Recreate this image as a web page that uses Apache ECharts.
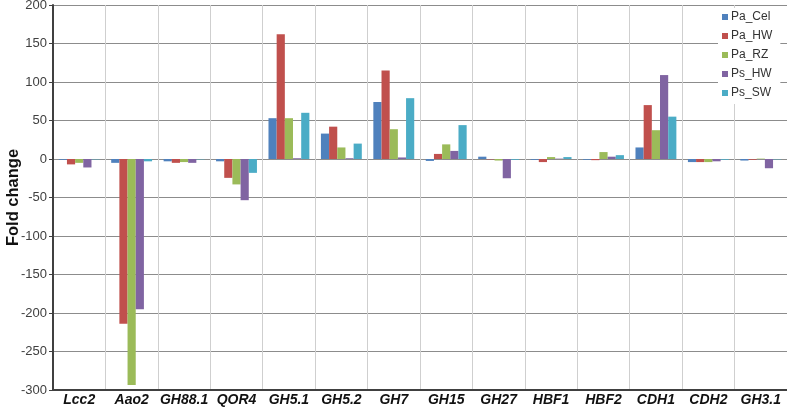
<!DOCTYPE html>
<html><head><meta charset="utf-8">
<script src="https://cdn.jsdelivr.net/npm/echarts@6/dist/echarts.min.js"></script>
<style>html,body{margin:0;padding:0;background:#fff}#c{width:787px;height:412px}</style>
</head><body><div id="c"></div>
<script>
const categories = ['Lcc2','Aao2','GH88.1','QOR4','GH5.1','GH5.2','GH7','GH15','GH27','HBF1','HBF2','CDH1','CDH2','GH3.1'];
const seriesNames = ['Pa_Cel','Pa_HW','Pa_RZ','Ps_HW','Ps_SW'];
const Pa_Cel = [-1, -5, -3, -3, 53, 33, 74, -2.5, 3, -1, -1, 15, -4, -2];
const Pa_HW  = [-7, -214, -5, -24.5, 162, 42, 115, 6.6, -0.5, -4, -1.5, 70, -4, -1];
const Pa_RZ  = [-5, -293.5, -4, -33, 53, 15, 38.7, 19, -2, 2.5, 9, 37.4, -4, 0.5];
const Ps_HW  = [-11, -195, -5, -53.5, 1, 1, 2, 10.5, -25, 0.5, 3, 109, -3, -12];
const Ps_SW  = [-0.5, -3, -0.5, -18, 60, 20, 79, 44, -1, 2.5, 5, 55, -1, -0.5];
const yTicks = [-300,-250,-200,-150,-100,-50,0,50,100,150,200];
const colors = ['#4F81BD','#C0504D','#9BBB59','#8064A2','#4BACC6'];
const allData = [Pa_Cel, Pa_HW, Pa_RZ, Ps_HW, Ps_SW];

const chart = echarts.init(document.getElementById('c'), null, {renderer:'canvas'});
chart.setOption({
  animation: false,
  color: colors,
  grid: {left: 53, top: 5, right: 0, bottom: 22, containLabel: false, outerBoundsMode: 'none'},
  legend: {
    orient: 'vertical', left: 718, top: 8,
    backgroundColor: '#fff', padding: [2, 8, 4, 4],
    icon: 'rect', itemWidth: 6, itemHeight: 6, itemGap: 5,
    textStyle: {fontFamily: 'Liberation Sans, Arial', fontSize: 12, color: '#333', lineHeight: 14, padding: [0,0,0,-2]},
    data: seriesNames
  },
  xAxis: {
    type: 'category', data: categories,
    axisLine: {onZero: false, lineStyle: {color: '#404040', width: 2}},
    axisTick: {show: false},
    splitLine: {show: true, lineStyle: {color: '#cfcfcf', width: 1}},
    axisLabel: {fontFamily: 'Liberation Sans, Arial', fontSize: 14, fontWeight: 'bold', fontStyle: 'italic', color: '#111', margin: 3, interval: 0}
  },
  yAxis: {
    type: 'value', min: -300, max: 200, interval: 50,
    name: 'Fold change', nameLocation: 'middle', nameGap: 31, nameMoveOverlap: false,
    nameTextStyle: {fontFamily: 'Liberation Sans, Arial', fontSize: 16.5, fontWeight: 'bold', color: '#111'},
    axisLine: {show: true, lineStyle: {color: '#404040', width: 2}},
    axisTick: {show: true, length: 4, lineStyle: {color: '#404040'}},
    splitLine: {show: true, lineStyle: {color: '#8c8c8c', width: 1}},
    axisLabel: {fontFamily: 'Liberation Sans, Arial', fontSize: 13, color: '#404040', margin: 6,
      formatter: v => yTicks.includes(v) ? String(v) : ''}
  },
  series: seriesNames.map((n, i) => ({
    name: n, type: 'bar', data: allData[i],
    barGap: '0%', barCategoryGap: '22%',
    itemStyle: {color: colors[i]}
  }))
});
</script></body></html>
